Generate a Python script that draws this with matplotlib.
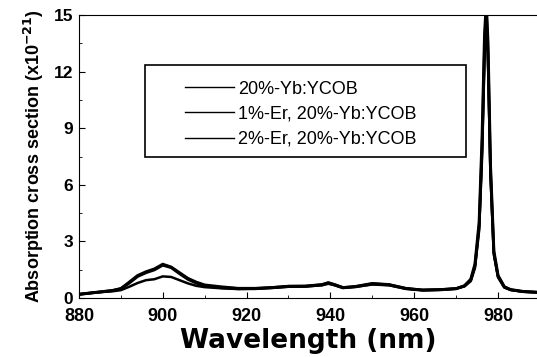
import matplotlib.pyplot as plt
from matplotlib.patches import Rectangle

plt.rcParams['font.family'] = ['Liberation Sans', 'DejaVu Sans']

# Longitudes de onda (nm) y secciones eficaces (x10^-21 cm^2)
wl = [880, 882, 884, 886, 888, 890, 892, 894, 896, 898, 900, 902, 904, 906,
      908, 910, 914, 918, 922, 926, 930, 934, 938, 939.5, 941, 943, 946, 950,
      954, 958, 962, 966, 970, 972, 973.5, 974.5, 975.5, 976.2, 976.8, 977.2,
      977.6, 978.2, 979, 980, 981.5, 983, 986, 990]

yb = [0.2, 0.25, 0.3, 0.35, 0.4, 0.5, 0.8, 1.15, 1.35, 1.5, 1.75, 1.62, 1.3,
      1.0, 0.8, 0.65, 0.55, 0.5, 0.5, 0.55, 0.62, 0.62, 0.7, 0.8, 0.7, 0.55,
      0.6, 0.75, 0.7, 0.5, 0.42, 0.44, 0.5, 0.65, 1.0, 1.8, 4.0, 8.5, 14.0,
      15.6, 13.5, 7.0, 2.5, 1.2, 0.6, 0.45, 0.35, 0.3]

er1 = [0.2, 0.25, 0.3, 0.35, 0.4, 0.5, 0.85, 1.2, 1.4, 1.55, 1.8, 1.65, 1.35,
       1.05, 0.85, 0.7, 0.6, 0.52, 0.52, 0.56, 0.63, 0.64, 0.72, 0.82, 0.72,
       0.56, 0.62, 0.78, 0.72, 0.52, 0.43, 0.45, 0.5, 0.65, 0.95, 1.7, 3.8,
       8.0, 13.5, 15.3, 13.0, 6.8, 2.4, 1.15, 0.58, 0.44, 0.34, 0.3]

er2 = [0.2, 0.25, 0.3, 0.33, 0.36, 0.42, 0.6, 0.8, 0.95, 1.0, 1.15, 1.12,
       0.95, 0.78, 0.65, 0.58, 0.52, 0.48, 0.5, 0.54, 0.6, 0.62, 0.68, 0.76,
       0.68, 0.54, 0.6, 0.72, 0.68, 0.5, 0.42, 0.44, 0.5, 0.62, 0.9, 1.6, 3.6,
       7.5, 12.8, 15.0, 12.5, 6.5, 2.3, 1.1, 0.56, 0.43, 0.34, 0.3]

etiquetas = ['20%-Yb:YCOB', '1%-Er, 20%-Yb:YCOB', '2%-Er, 20%-Yb:YCOB']

fig = plt.figure(figsize=(5.37, 3.57), dpi=100)
ax = fig.add_axes([0.147, 0.165, 0.853, 0.793])

ax.plot(wl, yb, color='black', linewidth=2.2, label=etiquetas[0])
ax.plot(wl, er1, color='black', linewidth=2.0, label=etiquetas[1])
ax.plot(wl, er2, color='black', linewidth=1.8, label=etiquetas[2])

ax.set_xlim(880, 989.3)
ax.set_ylim(0, 15)
ax.set_xticks([880, 900, 920, 940, 960, 980])
ax.set_yticks([0, 3, 6, 9, 12, 15])
ax.set_xticks(range(890, 990, 20), minor=True)
ax.set_yticks([1.5, 4.5, 7.5, 10.5, 13.5], minor=True)
ax.tick_params(which='both', direction='in')
ax.tick_params(axis='x', pad=7, labelsize=13)
ax.tick_params(axis='y', pad=4, labelsize=12.5)
ax.tick_params(which='major', length=4)
ax.tick_params(which='minor', length=2.5)
ax.spines['right'].set_visible(False)
for lab in ax.get_xticklabels() + ax.get_yticklabels():
    lab.set_fontweight('bold')

ax.set_xlabel('Wavelength (nm)', fontsize=19, fontweight='bold',
              family='DejaVu Sans', labelpad=2)
ax.set_ylabel('Absorption cross section (x10$^{\\mathbf{-21}}$)', fontsize=13,
              fontweight='bold', labelpad=6)

leg = ax.legend(loc='upper left', bbox_to_anchor=(0.212, 0.80), frameon=False,
                fontsize=13, handlelength=2.7, handletextpad=0.25,
                labelspacing=0.45, borderpad=0)
for h in leg.get_lines():
    h.set_linewidth(1.0)
ax.add_patch(Rectangle((0.144, 0.498), 0.701, 0.325, transform=ax.transAxes,
                       fill=False, edgecolor='black', linewidth=1.2))

fig.savefig('out.png', dpi=100)
